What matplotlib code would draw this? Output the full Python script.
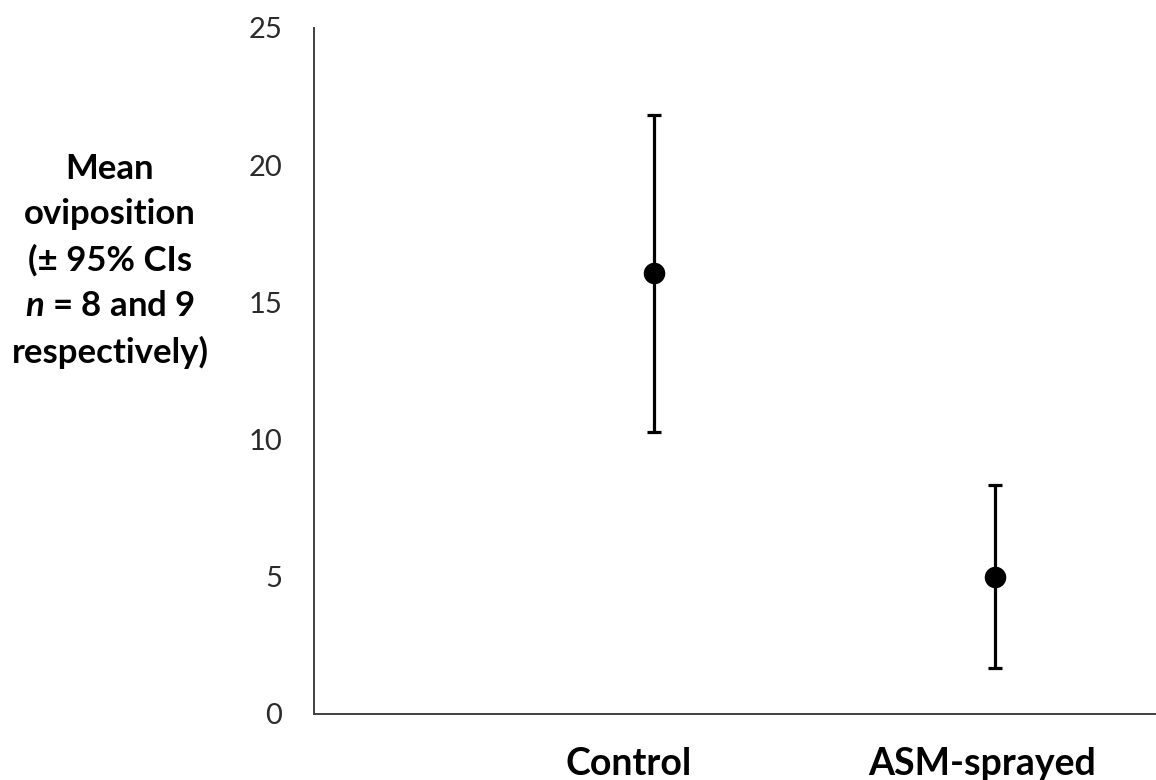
import matplotlib
matplotlib.use("Agg")
import matplotlib.pyplot as plt
import matplotlib.transforms as mtransforms

categories = ["Control", "ASM-sprayed"]
means = [16.07, 4.99]
upper = [21.83, 8.35]
lower = [10.28, 1.68]
yticks = [0, 5, 10, 15, 20, 25]

plt.rcParams['font.family'] = ['Lato', 'DejaVu Sans']
plt.rcParams['mathtext.fontset'] = 'custom'
plt.rcParams['mathtext.rm'] = 'Lato:bold'
plt.rcParams['mathtext.it'] = 'Lato:bold:italic'
plt.rcParams['mathtext.bf'] = 'Lato:bold'

fig = plt.figure(figsize=(11.56, 7.8), dpi=100)
ax = fig.add_axes([314/1156, 1-714/780, 1-314/1156, (714-28)/780])

x = list(range(len(categories)))
yerr = [[m - l for m, l in zip(means, lower)], [u - m for m, u in zip(means, upper)]]
ax.errorbar(x, means, yerr=yerr, fmt='o', color='black', ecolor='black',
            elinewidth=2.3, capsize=5, capthick=2.3, markersize=14.5, clip_on=False)

ax.set_xlim(-0.997, 1.472)
ax.set_ylim(0, 25)
ax.set_yticks(yticks)
ax.set_yticklabels([str(v) for v in yticks])
ax.set_xticks(x)
ax.set_xticklabels(categories, fontweight='bold', fontsize=27)
ax.tick_params(axis='y', length=0, pad=23, labelsize=21, labelcolor='#2b2b2b')
ax.tick_params(axis='x', length=0, pad=24, labelcolor='black')

# slight leftward offsets of category labels as in the reference
for lbl, dx in zip(ax.get_xticklabels(), [-18, -9]):
    lbl.set_transform(lbl.get_transform() +
                      mtransforms.ScaledTranslation(dx / 72, 0, fig.dpi_scale_trans))

for s in ['top', 'right']:
    ax.spines[s].set_visible(False)
for s in ['left', 'bottom']:
    ax.spines[s].set_color('#404040')
    ax.spines[s].set_linewidth(1.4)

fig.text(110/1156, 1-261/780,
         "Mean\noviposition\n(± 95% CIs\n$n$ = 8 and 9\nrespectively)",
         ha='center', va='center', multialignment='center',
         fontsize=25, fontweight='bold', linespacing=1.52, color='black')

fig.savefig("out.png", dpi=100)
